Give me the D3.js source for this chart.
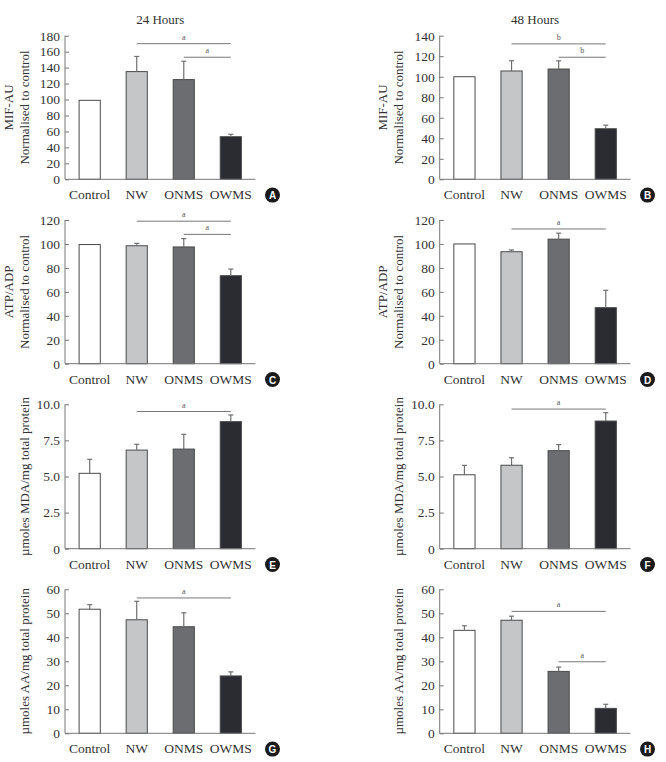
<!DOCTYPE html>
<html>
<head>
<meta charset="utf-8">
<script src="https://cdn.jsdelivr.net/npm/d3@7"></script>
<style>
  html, body { margin: 0; padding: 0; background: #fff; }
  svg { display: block; }
  text { font-family: "Liberation Serif", "Times New Roman", serif; }
</style>
</head>
<body>
<svg id="chart" width="666" height="762"></svg>
<script>
// ---- Data ----
const categories = ["Control", "NW", "ONMS", "OWMS"];
const columnTitles = ["24 Hours", "48 Hours"];

const mif24 = [99, 135, 125, 53.4];
const mif24Err = [0, 19, 23, 3];
const mif48 = [100, 105.6, 107.5, 49.3];
const mif48Err = [0, 10, 8, 3.5];

const atp24 = [99.5, 98.5, 97.5, 73.5];
const atp24Err = [0, 2, 7, 5.5];
const atp48 = [100, 93.5, 104, 46.8];
const atp48Err = [0, 1.5, 5, 14.5];

const mda24 = [5.22, 6.83, 6.9, 8.8];
const mda24Err = [0.97, 0.4, 1.02, 0.46];
const mda48 = [5.12, 5.78, 6.79, 8.84];
const mda48Err = [0.65, 0.52, 0.42, 0.58];

const aa24 = [51.7, 47.3, 44.4, 23.9];
const aa24Err = [1.9, 7.7, 5.8, 1.7];
const aa48 = [42.9, 47.1, 25.8, 10.4];
const aa48Err = [1.9, 1.7, 1.8, 1.7];

const ticksMIF24 = [0, 20, 40, 60, 80, 100, 120, 140, 160, 180];
const ticksMIF48 = [0, 20, 40, 60, 80, 100, 120, 140];
const ticksATP = [0, 20, 40, 60, 80, 100, 120];
const ticksMDA = [0, 2.5, 5.0, 7.5, 10.0];
const ticksAA = [0, 10, 20, 30, 40, 50, 60];

// significance bars: [fromCategoryIndex, toCategoryIndex, value level, label]
const sigA = [[1, 3, 170, "a"], [2, 3, 153, "a"]];
const sigB = [[1, 3, 132, "b"], [2, 3, 119, "b"]];
const sigC = [[1, 3, 119, "a"], [2, 3, 108, "a"]];
const sigD = [[1, 3, 112.5, "a"]];
const sigE = [[1, 3, 9.5, "a"]];
const sigF = [[1, 3, 9.67, "a"]];
const sigG = [[1, 3, 56.4, "a"]];
const sigH = [[1, 3, 50.8, "a"], [2, 3, 29.8, "a"]];

const ylabMIF = ["MIF-AU", "Normalised to control"];
const ylabATP = ["ATP/ADP", "Normalised to control"];
const ylabMDA = ["µmoles MDA/mg total protein"];
const ylabAA = ["µmoles AA/mg total protein"];

const barColors = ["#ffffff", "#c5c6c8", "#6c6d70", "#2b2c31"];

// ---- Panels (built from the arrays above) ----
const panels = [
  { letter: "A", col: 0, row: 0, v: mif24, e: mif24Err, ticks: ticksMIF24, sig: sigA, ylab: ylabMIF, fmt: d3.format("d") },
  { letter: "B", col: 1, row: 0, v: mif48, e: mif48Err, ticks: ticksMIF48, sig: sigB, ylab: ylabMIF, fmt: d3.format("d") },
  { letter: "C", col: 0, row: 1, v: atp24, e: atp24Err, ticks: ticksATP, sig: sigC, ylab: ylabATP, fmt: d3.format("d") },
  { letter: "D", col: 1, row: 1, v: atp48, e: atp48Err, ticks: ticksATP, sig: sigD, ylab: ylabATP, fmt: d3.format("d") },
  { letter: "E", col: 0, row: 2, v: mda24, e: mda24Err, ticks: ticksMDA, sig: sigE, ylab: ylabMDA, fmt: d => d === 0 ? "0" : d3.format(".1f")(d) },
  { letter: "F", col: 1, row: 2, v: mda48, e: mda48Err, ticks: ticksMDA, sig: sigF, ylab: ylabMDA, fmt: d => d === 0 ? "0" : d3.format(".1f")(d) },
  { letter: "G", col: 0, row: 3, v: aa24, e: aa24Err, ticks: ticksAA, sig: sigG, ylab: ylabAA, fmt: d3.format("d") },
  { letter: "H", col: 1, row: 3, v: aa48, e: aa48Err, ticks: ticksAA, sig: sigH, ylab: ylabAA, fmt: d3.format("d") }
];

// ---- Layout ----
const colX = [[65, 255.5], [439.7, 630.5]];
const rowY = [[35.7, 179.3], [220, 363.7], [404.3, 548.7], [589.3, 733.3]];
const SERIF = "'Liberation Serif', 'Times New Roman', serif";
const TXT = "#333";

const svg = d3.select("#chart");

// column titles
columnTitles.forEach((t, i) => {
  svg.append("text")
    .attr("x", (colX[i][0] + colX[i][1]) / 2)
    .attr("y", 19)
    .attr("text-anchor", "middle")
    .attr("dominant-baseline", "central")
    .style("font-size", "13px")
    .style("fill", TXT)
    .text(t);
});

panels.forEach(p => {
  const [x0, x1] = colX[p.col];
  const [yTop, yBot] = rowY[p.row];
  const yMax = p.ticks[p.ticks.length - 1];

  const x = d3.scaleBand().domain(categories).range([x0, x1])
    .paddingInner(0.55).paddingOuter(0.3);
  const y = d3.scaleLinear().domain([0, yMax]).range([yBot, yTop]);

  const g = svg.append("g");

  // bars
  g.selectAll("rect.bar").data(categories).join("rect")
    .attr("class", "bar")
    .attr("x", d => x(d))
    .attr("width", x.bandwidth())
    .attr("y", (d, i) => y(p.v[i]))
    .attr("height", (d, i) => y(0) - y(p.v[i]))
    .attr("fill", (d, i) => barColors[i])
    .attr("stroke", "#4a4a4a")
    .attr("stroke-width", 1);

  // error bars (upward only)
  categories.forEach((c, i) => {
    if (!p.e[i]) return;
    const cx = x(c) + x.bandwidth() / 2;
    const yv = y(p.v[i]);
    const ye = y(p.v[i] + p.e[i]);
    g.append("line").attr("x1", cx).attr("x2", cx).attr("y1", yv).attr("y2", ye)
      .attr("stroke", "#707070").attr("stroke-width", 1.2);
    g.append("line").attr("x1", cx - 2.5).attr("x2", cx + 2.5).attr("y1", ye).attr("y2", ye)
      .attr("stroke", "#707070").attr("stroke-width", 1.2);
  });

  // y axis (ticks pointing inward)
  const yAxis = d3.axisRight(y).tickValues(p.ticks).tickFormat(p.fmt).tickSize(4);
  const ya = g.append("g").attr("transform", `translate(${x0},0)`).call(yAxis);
  ya.select(".domain").attr("stroke", "#777").attr("d", `M0,${yTop}V${yBot}`);
  ya.selectAll(".tick line").attr("stroke", "#777");
  ya.selectAll(".tick text")
    .attr("text-anchor", "end")
    .attr("x", -5)
    .style("font-size", "13.5px")
    .style("font-family", SERIF)
    .style("fill", TXT);

  // x axis baseline
  g.append("line").attr("x1", x0).attr("x2", x1).attr("y1", yBot).attr("y2", yBot)
    .attr("stroke", "#777").attr("stroke-width", 1);

  // category labels
  g.selectAll("text.cat").data(categories).join("text")
    .attr("class", "cat")
    .attr("x", d => x(d) + x.bandwidth() / 2)
    .attr("y", yBot + 15.5)
    .attr("text-anchor", "middle")
    .attr("dominant-baseline", "central")
    .style("font-size", "13.5px")
    .style("fill", TXT)
    .text(d => d);

  // y label
  const yMid = (yTop + yBot) / 2;
  const offsets = p.ylab.length === 2 ? [-57, -41] : [-41];
  p.ylab.forEach((t, k) => {
    g.append("text")
      .attr("transform", `translate(${x0 + offsets[k]},${yMid}) rotate(-90)`)
      .attr("text-anchor", "middle")
      .attr("dominant-baseline", "central")
      .style("font-size", "13px")
      .style("fill", TXT)
      .text(t);
  });

  // significance bars
  p.sig.forEach(s => {
    const xa = x(categories[s[0]]) + x.bandwidth() / 2;
    const xb = x(categories[s[1]]) + x.bandwidth() / 2;
    const ys = y(s[2]);
    g.append("line").attr("x1", xa).attr("x2", xb).attr("y1", ys).attr("y2", ys)
      .attr("stroke", "#777").attr("stroke-width", 1);
    g.append("text")
      .attr("x", (xa + xb) / 2)
      .attr("y", ys - 6.5)
      .attr("text-anchor", "middle")
      .attr("dominant-baseline", "central")
      .style("font-size", "8px")
      .style("fill", "#555")
      .text(s[3]);
  });

  // panel letter badge
  const bx = x1 + 17;
  const by = yBot + 15.8;
  g.append("circle").attr("cx", bx).attr("cy", by).attr("r", 7.5).attr("fill", "#1a1a1a");
  g.append("text")
    .attr("x", bx).attr("y", by + 0.5)
    .attr("text-anchor", "middle")
    .attr("dominant-baseline", "central")
    .style("font-family", "'Liberation Sans', Arial, sans-serif")
    .style("font-weight", "bold")
    .style("font-size", "10px")
    .style("fill", "#fff")
    .text(p.letter);
});
</script>
</body>
</html>
